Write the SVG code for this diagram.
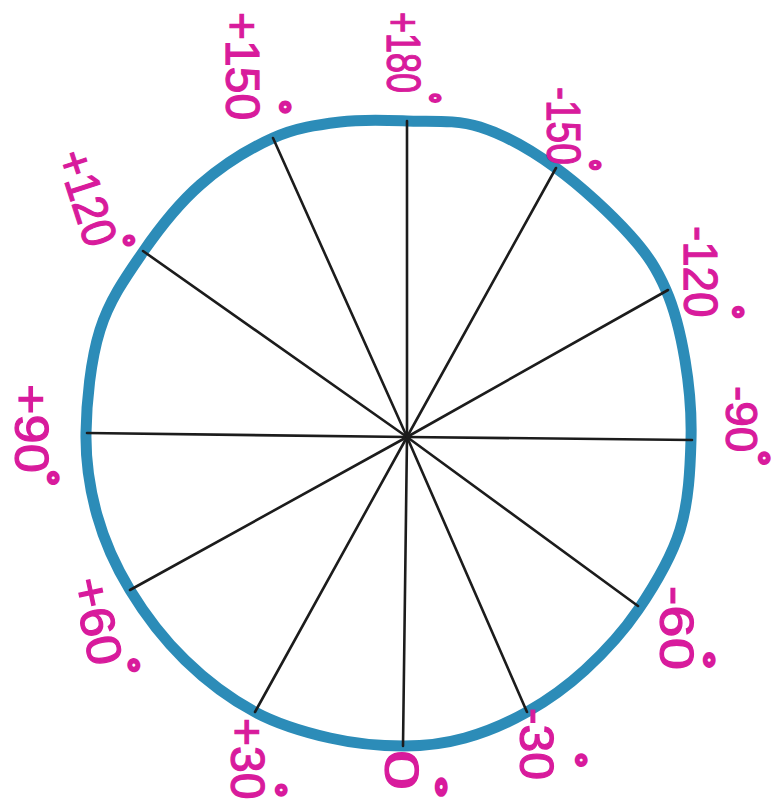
<svg xmlns="http://www.w3.org/2000/svg" width="779" height="802" viewBox="0 0 779 802">
<style>
.lbl{font-family:"Liberation Sans",Arial,sans-serif;font-size:48px;fill:#d81b9c;stroke:#d81b9c;stroke-width:1.2}
.deg{font-size:34px;font-weight:bold;stroke-width:2.5}
.ray{stroke:#1c1c1c;stroke-width:2.6;stroke-linecap:round}
.rim{fill:none;stroke:#2c8cb8;stroke-width:11;stroke-linejoin:round}
</style>
<rect width="779" height="802" fill="#ffffff"/>
<g id="rim">
<path class="rim" d="M407,121 C430.3,121.8 455.2,119.2 480,127 C504.8,134.8 531,150 556,168 C581,186 611.7,214.7 630,235 C648.3,255.3 656.8,269.2 666,290 C675.2,310.8 680.8,335 685,360 C689.2,385 691.8,411.7 691,440 C690.2,468.3 688.8,501.7 680,530 C671.2,558.3 653.8,586.7 638,610 C622.2,633.3 603.5,653 585,670 C566.5,687 547,700.7 527,712 C507,723.3 485.5,732.3 465,738 C444.5,743.7 426.5,746 404,746 C381.5,746 354.8,743.7 330,738 C305.2,732.3 279.2,725 255,712 C230.8,699 205.8,680.3 185,660 C164.2,639.7 144.7,614.2 130,590 C115.3,565.8 104.3,541.2 97,515 C89.7,488.8 85.5,463.8 86,433 C86.5,402.2 90.5,360.2 100,330 C109.5,299.8 126.3,276.2 143,252 C159.7,227.8 178.3,204 200,185 C221.7,166 249.7,148.5 273,138 C296.3,127.5 317.7,124.8 340,122 C362.3,119.2 383.7,120.2 407,121 Z"/>
</g>
<g id="connectors">
<line class="ray" x1="407" y1="437" x2="407" y2="121"/>
<line class="ray" x1="407" y1="437" x2="273" y2="138"/>
<line class="ray" x1="407" y1="437" x2="143" y2="251"/>
<line class="ray" x1="407" y1="437" x2="87" y2="433"/>
<line class="ray" x1="407" y1="437" x2="130" y2="590"/>
<line class="ray" x1="407" y1="437" x2="255" y2="712"/>
<line class="ray" x1="407" y1="437" x2="403" y2="746"/>
<line class="ray" x1="407" y1="437" x2="527" y2="712"/>
<line class="ray" x1="407" y1="437" x2="638" y2="606"/>
<line class="ray" x1="407" y1="437" x2="692" y2="440"/>
<line class="ray" x1="407" y1="437" x2="668" y2="290"/>
<line class="ray" x1="407" y1="437" x2="556" y2="168"/>
</g>
<g id="label-p180"><text class="lbl" transform="translate(387,12) rotate(90) scale(0.75,1)">+180<tspan class="deg" x="107.9" y="-30.4">°</tspan></text></g>
<g id="label-p150"><text class="lbl" transform="translate(226,12) rotate(90) scale(1,1)">+150<tspan class="deg" x="88.2" y="-41.4">°</tspan></text></g>
<g id="label-m150"><text class="lbl" transform="translate(547,87) rotate(90) scale(0.81,1)">-150<tspan class="deg" x="89.5" y="-30.4">°</tspan></text></g>
<g id="label-m120"><text class="lbl" transform="translate(684,226) rotate(90) scale(0.95,1)">-120<tspan class="deg" x="83.7" y="-36.4">°</tspan></text></g>
<g id="label-m90"><text class="lbl" style="font-size:44px" transform="translate(726,386) rotate(90) scale(1.04,1)">-90<tspan class="deg" x="62.4" y="-20.4">°</tspan></text></g>
<g id="label-m60"><text class="lbl" transform="translate(660,586) rotate(90) scale(1.21,1)">-60<tspan class="deg" x="54.4" y="-31.4">°</tspan></text></g>
<g id="label-m30"><text class="lbl" transform="translate(520,708) rotate(90) scale(1.04,1)">-30<tspan class="deg" x="43.2" y="-43.4">°</tspan></text></g>
<g id="label-0"><text class="lbl" transform="translate(385,750) rotate(90) scale(1.5,1)">0<tspan class="deg" x="17.9" y="-38.4">°</tspan></text></g>
<g id="label-p30"><text class="lbl" transform="translate(231,718) rotate(90) scale(1,1)">+30<tspan class="deg" x="65.2" y="-32.4">°</tspan></text></g>
<g id="label-p60"><text class="lbl" transform="translate(72,581) rotate(78) scale(1.09,1)">+60<tspan class="deg" x="80.6" y="-24.5">°</tspan></text></g>
<g id="label-p90"><text class="lbl" transform="translate(15,384) rotate(90) scale(1.09,1)">+90<tspan class="deg" x="79.4" y="-20.4">°</tspan></text></g>
<g id="label-p120"><text class="lbl" transform="translate(56,156) rotate(72) scale(0.91,1)">+120<tspan class="deg" x="106.2" y="-24.8">°</tspan></text></g>
</svg>
